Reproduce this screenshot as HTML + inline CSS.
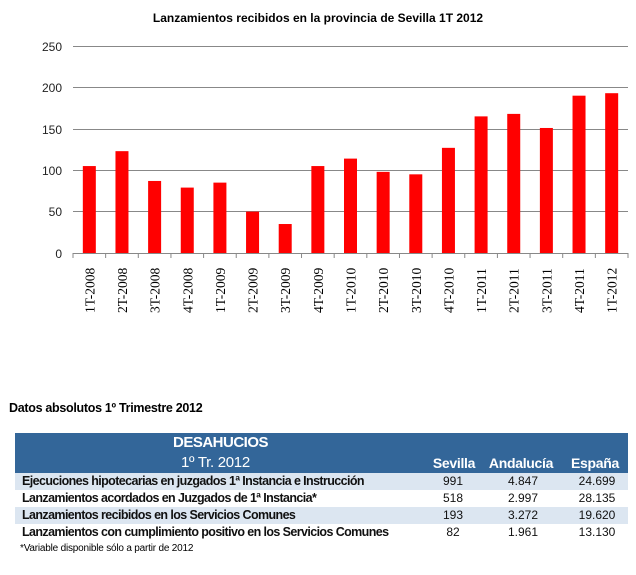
<!DOCTYPE html>
<html><head><meta charset="utf-8"><style>
body{margin:0;background:#fff;width:636px;height:575px;overflow:hidden;font-family:"Liberation Sans",sans-serif;position:relative}
.t{position:absolute;white-space:nowrap}
.r{position:absolute;left:15px;width:613px;height:17px}
.l{position:absolute;left:7px;top:0;line-height:17px;font-size:12.5px;font-weight:bold;letter-spacing:-0.6px;white-space:nowrap;color:#111}
.n{position:absolute;top:0;line-height:17px;font-size:12px;width:80px;text-align:center;color:#111}
</style></head><body>
<div class="t" style="left:0;width:636px;top:11px;text-align:center;font-size:12px;font-weight:bold;color:#000">Lanzamientos recibidos en la provincia de Sevilla 1T 2012</div>
<svg width="636" height="330" style="position:absolute;left:0;top:0">
<g stroke="#888" stroke-width="1">
<line x1="73" x2="628" y1="46.5" y2="46.5"/><line x1="73" x2="628" y1="87.5" y2="87.5"/><line x1="73" x2="628" y1="129.5" y2="129.5"/><line x1="73" x2="628" y1="170.5" y2="170.5"/><line x1="73" x2="628" y1="211.5" y2="211.5"/><line x1="73" x2="628" y1="253.5" y2="253.5"/>
</g>
<g font-family="Liberation Sans" font-size="12" fill="#222" text-anchor="end">
<text x="62" y="51">250</text><text x="62" y="92">200</text><text x="62" y="134">150</text><text x="62" y="175">100</text><text x="62" y="216">50</text><text x="62" y="258">0</text>
</g>
<g id="bars" fill="#ff0000"></g>
<g id="ticks" stroke="#888"></g>
<g id="labs" font-family="Liberation Serif" font-size="13.5" fill="#000"></g>
</svg>
<script>
var v=[105,123,87,79,85,50,35,105,114,98,95,127,165,168,151,190,193];
var l=["1T-2008","2T-2008","3T-2008","4T-2008","1T-2009","2T-2009","3T-2009","4T-2009","1T-2010","2T-2010","3T-2010","4T-2010","1T-2011","2T-2011","3T-2011","4T-2011","1T-2012"];
var b="",t="",s="",w=555/17;
for(var i=0;i<17;i++){var c=73+w*(i+.5),h=v[i]*0.828;
b+='<rect x="'+(c-6.5)+'" y="'+(253-h)+'" width="13" height="'+h+'"/>';
t+='<line x1="'+(73+w*i)+'" x2="'+(73+w*i)+'" y1="253" y2="258"/>';
s+='<text transform="translate('+(c+5)+',313) rotate(-90)">'+l[i]+'</text>';}
t+='<line x1="628" x2="628" y1="253" y2="258"/>';
document.getElementById("bars").innerHTML=b;document.getElementById("ticks").innerHTML=t;document.getElementById("labs").innerHTML=s;
</script>
<div class="t" style="left:9px;top:401px;font-size:12.5px;font-weight:bold;letter-spacing:-0.3px">Datos absolutos 1º Trimestre 2012</div>
<div style="position:absolute;left:15px;top:433px;width:613px;height:40px;background:#336699;color:#fff">
<div class="t" style="left:158px;top:1px;font-size:15px;font-weight:bold;letter-spacing:-0.5px">DESAHUCIOS</div>
<div class="t" style="left:166px;top:21px;font-size:15px;letter-spacing:-0.3px">1º Tr. 2012</div>
<div class="t" style="left:399px;top:22px;width:80px;text-align:center;font-size:14px;font-weight:bold;letter-spacing:-0.3px">Sevilla</div>
<div class="t" style="left:466px;top:22px;width:80px;text-align:center;font-size:14px;font-weight:bold;letter-spacing:-0.3px">Andalucía</div>
<div class="t" style="left:540px;top:22px;width:80px;text-align:center;font-size:14px;font-weight:bold;letter-spacing:-0.3px">España</div>
</div>
<div class="r" style="top:473px;background:#dce6f1"><div class="l">Ejecuciones hipotecarias en juzgados 1ª Instancia e Instrucción</div><div class="n" style="left:398px">991</div><div class="n" style="left:468px">4.847</div><div class="n" style="left:542px">24.699</div></div>
<div class="r" style="top:490px"><div class="l">Lanzamientos acordados en Juzgados de 1ª Instancia*</div><div class="n" style="left:398px">518</div><div class="n" style="left:468px">2.997</div><div class="n" style="left:542px">28.135</div></div>
<div class="r" style="top:507px;background:#dce6f1"><div class="l">Lanzamientos recibidos en los Servicios Comunes</div><div class="n" style="left:398px">193</div><div class="n" style="left:468px">3.272</div><div class="n" style="left:542px">19.620</div></div>
<div class="r" style="top:524px"><div class="l">Lanzamientos con cumplimiento positivo en los Servicios Comunes</div><div class="n" style="left:398px">82</div><div class="n" style="left:468px">1.961</div><div class="n" style="left:542px">13.130</div></div>
<div class="t" style="left:20px;top:543px;font-size:10px;letter-spacing:-0.2px">*Variable  disponible  sólo a partir de 2012</div>
</body></html>
